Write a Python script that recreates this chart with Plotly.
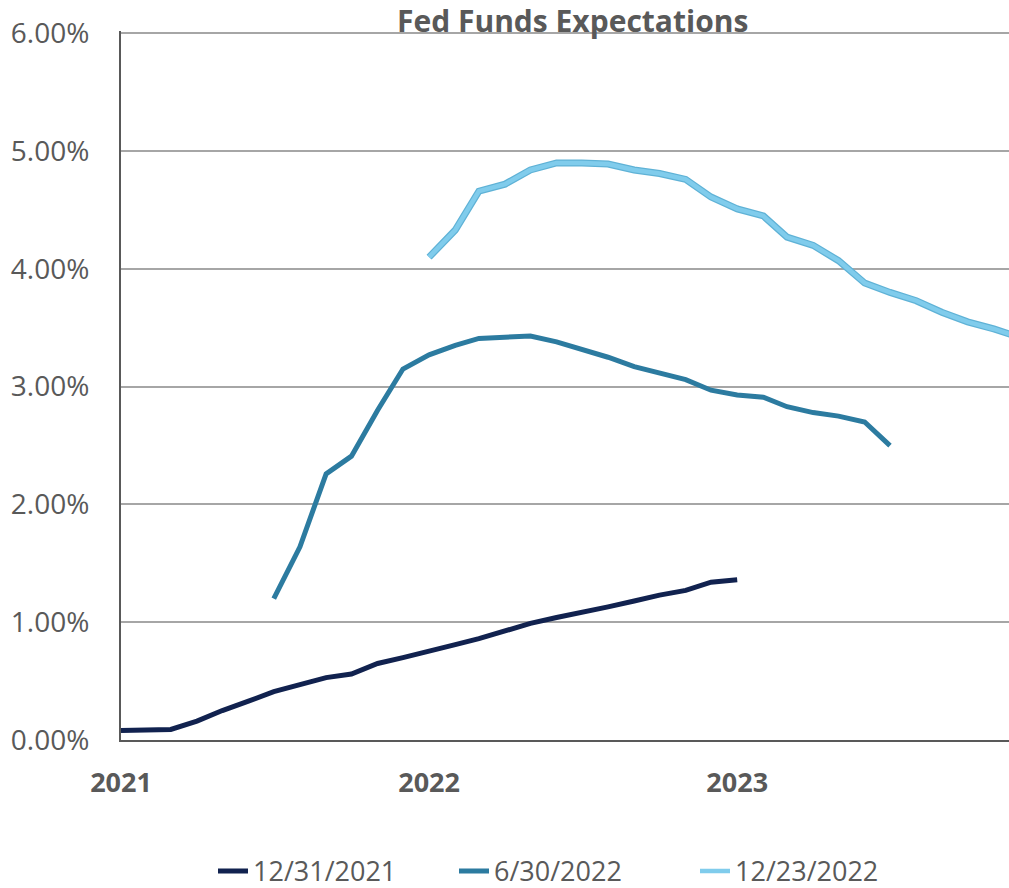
import plotly.graph_objects as go

# ---- data ----
dates_1231 = ["2021-01-01","2021-02-01","2021-03-01","2021-04-01","2021-05-01","2021-06-01",
              "2021-07-01","2021-08-01","2021-09-01","2021-10-01","2021-11-01","2021-12-01",
              "2022-01-01","2022-02-01","2022-03-01","2022-04-01","2022-05-01","2022-06-01",
              "2022-07-01","2022-08-01","2022-09-01","2022-10-01","2022-11-01","2022-12-01",
              "2023-01-01"]
vals_1231 = [0.08, 0.08, 0.09, 0.16, 0.25, 0.33, 0.41, 0.47, 0.53, 0.56, 0.65, 0.70,
             0.76, 0.81, 0.86, 0.93, 0.99, 1.04, 1.08, 1.13, 1.18, 1.23, 1.27, 1.34, 1.36]

dates_0630 = ["2021-07-01","2021-08-01","2021-09-01","2021-10-01","2021-11-01","2021-12-01",
              "2022-01-01","2022-02-01","2022-03-01","2022-04-01","2022-05-01","2022-06-01",
              "2022-07-01","2022-08-01","2022-09-01","2022-10-01","2022-11-01","2022-12-01",
              "2023-01-01","2023-02-01","2023-03-01","2023-04-01","2023-05-01","2023-06-01",
              "2023-07-01"]
vals_0630 = [1.20, 1.64, 2.26, 2.41, 2.80, 3.15, 3.27, 3.35, 3.41, 3.42, 3.43, 3.38,
             3.32, 3.25, 3.17, 3.12, 3.06, 2.97, 2.93, 2.91, 2.83, 2.78, 2.75, 2.70, 2.50]

dates_1223 = ["2022-01-01","2022-02-01","2022-03-01","2022-04-01","2022-05-01","2022-06-01",
              "2022-07-01","2022-08-01","2022-09-01","2022-10-01","2022-11-01","2022-12-01",
              "2023-01-01","2023-02-01","2023-03-01","2023-04-01","2023-05-01","2023-06-01",
              "2023-07-01","2023-08-01","2023-09-01","2023-10-01","2023-11-01","2023-12-01"]
vals_1223 = [4.10, 4.33, 4.66, 4.72, 4.84, 4.90, 4.90, 4.89, 4.84, 4.81, 4.76, 4.61,
             4.51, 4.45, 4.27, 4.20, 4.07, 3.88, 3.80, 3.73, 3.63, 3.55, 3.49, 3.42]

x_tick_vals = ["2021-01-01", "2022-01-01", "2023-01-01"]
x_tick_text = ["2021", "2022", "2023"]
y_tick_vals = [0, 1, 2, 3, 4, 5, 6]
y_tick_text = ["0.00%", "1.00%", "2.00%", "3.00%", "4.00%", "5.00%", "6.00%"]

TXT = "#595959"
FONT = "Open Sans"

fig = go.Figure()
fig.add_trace(go.Scatter(x=dates_1231, y=vals_1231, mode="lines", name="12/31/2021",
                         line=dict(color="#11224F", width=5)))
fig.add_trace(go.Scatter(x=dates_0630, y=vals_0630, mode="lines", name="6/30/2022",
                         line=dict(color="#2C7BA0", width=5)))
fig.add_trace(go.Scatter(x=dates_1223, y=vals_1223, mode="lines", showlegend=False,
                         hoverinfo="skip", line=dict(color="#5FB2D6", width=7)))
fig.add_trace(go.Scatter(x=dates_1223, y=vals_1223, mode="lines", name="12/23/2022",
                         line=dict(color="#80CCEC", width=4.5)))

fig.update_layout(
    width=1009, height=888,
    margin=dict(l=121, r=0, t=31, b=148, autoexpand=False),
    paper_bgcolor="white", plot_bgcolor="white",
    font=dict(family=FONT, color=TXT),
    showlegend=True,
    legend=dict(orientation="h", x=(213 - 121) / 888, xanchor="left",
                y=-(871 - 740) / 707, yanchor="middle",
                font=dict(family=FONT, size=27, color=TXT),
                entrywidth=196, entrywidthmode="pixels",
                bgcolor="rgba(0,0,0,0)"),
    annotations=[dict(text="<b>Fed Funds Expectations</b>", xref="paper", yref="paper",
                      x=(572 - 121) / 888, y=1, xanchor="center", yanchor="middle",
                      yshift=11, showarrow=False,
                      font=dict(family=FONT, size=30, color=TXT))],
)

fig.update_xaxes(
    type="date", range=["2021-01-01", "2023-11-19"],
    tickmode="array", tickvals=x_tick_vals, ticktext=x_tick_text,
    tickfont=dict(family=FONT, size=27, color=TXT, weight="bold"),
    showgrid=False, zeroline=False, automargin=False,
    showline=True, linecolor="#595959", linewidth=2,
    ticks="", ticklabelstandoff=18,
)
fig.update_yaxes(
    range=[0, 6.02], tickmode="array", tickvals=y_tick_vals, ticktext=y_tick_text,
    tickfont=dict(family=FONT, size=28, color=TXT),
    showgrid=True, gridcolor="#A6A6A6", gridwidth=2,
    zeroline=False, showline=True, linecolor="#595959", linewidth=2,
    automargin=False, ticks="", ticklabelstandoff=24,
)

fig.write_html("out.html", config={"displayModeBar": False},
               post_script="document.body.style.margin='0';document.body.style.overflow='hidden';")
